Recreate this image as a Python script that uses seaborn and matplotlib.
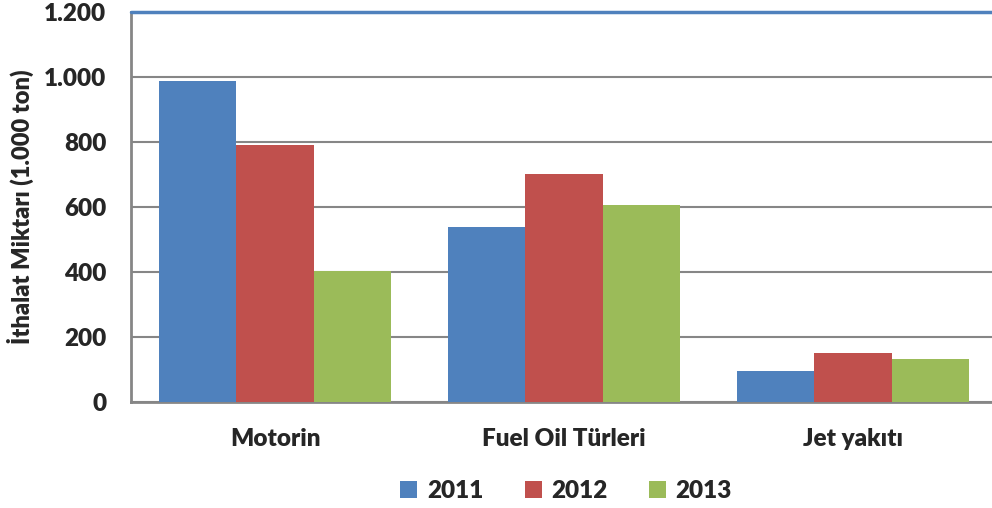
import pandas
import matplotlib.pyplot as plt
import seaborn


categories = ['Motorin', 'Fuel Oil Türleri', 'Jet yakıtı']
years = ['2011', '2012', '2013']
v2011 = [986, 538, 95]
v2012 = [790, 702, 151]
v2013 = [404, 606, 133]
colors = ['#4f81bd', '#c0504d', '#9bbb59']

data = pandas.DataFrame({
    'kategori': categories * 3,
    'yil': [y for y in years for _ in categories],
    'deger': v2011 + v2012 + v2013,
})

seaborn.set_style('white')
plt.rcParams['font.family'] = ['Lato', 'DejaVu Sans']
plt.rcParams['font.weight'] = 'bold'

fig = plt.figure(figsize=[9.92, 5.08], dpi=100)
ax = fig.add_axes([130.5 / 992, 106 / 508, 867 / 992, 390.5 / 508])

seaborn.barplot(data=data, x='kategori', y='deger', hue='yil', order=categories,
                hue_order=years, palette=colors, width=0.8, saturation=1,
                edgecolor='none', linewidth=0, ax=ax, zorder=3)

ax.set_xlim(-0.5, 2.5)
ax.set_ylim(0, 1200)
ax.set_yticks(range(0, 1201, 200))
ax.set_yticklabels(['0', '200', '400', '600', '800', '1.000', '1.200'])
ax.yaxis.grid(True, color='#868686', linewidth=1.5, zorder=0)
ax.axhline(1200, color='#4f81bd', linewidth=2.5, zorder=4, clip_on=False)
ax.tick_params(axis='both', labelsize=17.5, length=0)
ax.tick_params(axis='y', pad=17.5)
ax.tick_params(axis='x', pad=19)
for lab in ax.get_xticklabels() + ax.get_yticklabels():
    lab.set_fontweight('heavy')

ax.set_xlabel('')
ax.set_ylabel('İthalat Miktarı (1.000 ton)', fontsize=17, fontweight='heavy', labelpad=7)

for side in ['top', 'right']:
    ax.spines[side].set_visible(False)
ax.spines['left'].set_color('#868686')
ax.spines['left'].set_linewidth(2)
ax.spines['bottom'].set_color('#868686')
ax.spines['bottom'].set_linewidth(2)

handles, labels = ax.get_legend_handles_labels()
ax.legend(handles, labels, loc='center', bbox_to_anchor=(566 / 992, 17 / 508),
          bbox_transform=fig.transFigure, ncol=3, frameon=False,
          prop={'size': 17.5, 'weight': 'heavy'}, handlelength=0.7, handleheight=0.7,
          handletextpad=0.4, columnspacing=1.7)

plt.savefig('out.png', dpi=100)
